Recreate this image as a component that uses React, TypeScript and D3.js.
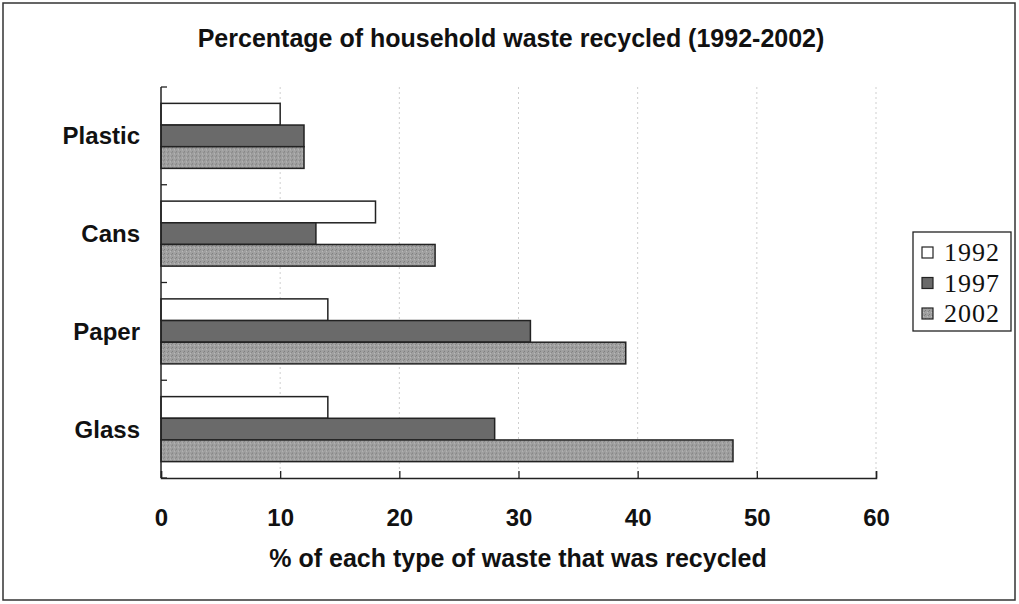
import React, { useRef, useEffect } from 'react';
import * as d3 from 'd3';

// waste types (top to bottom) and recycled % per year
const categories = ['Plastic', 'Cans', 'Paper', 'Glass'];
const years = ['1992', '1997', '2002'];
const values1992 = [10, 18, 14, 14];
const values1997 = [12, 13, 31, 28];
const values2002 = [12, 23, 39, 48];
const xTicks = [0, 10, 20, 30, 40, 50, 60];

const App = () => {
    const svgRef = useRef<SVGSVGElement>(null);
    const width = 1019;
    const height = 604;

    useEffect(() => {
        const svg = d3.select(svgRef.current)
            .attr('width', width)
            .attr('height', height);

        svg.selectAll('*').remove();

        const sans = 'Arial, "Liberation Sans", sans-serif';
        const seriesValues = [values1992, values1997, values2002];
        const fills = ['#ffffff', '#6a6a6a', 'url(#speckle)'];

        // speckled texture for 2002 bars
        const defs = svg.append('defs');
        const pat = defs.append('pattern')
            .attr('id', 'speckle')
            .attr('width', 4).attr('height', 4)
            .attr('patternUnits', 'userSpaceOnUse');
        pat.append('rect').attr('width', 4).attr('height', 4).attr('fill', '#a0a0a0');
        pat.append('rect').attr('x', 0).attr('y', 0).attr('width', 1).attr('height', 1).attr('fill', '#7a7a7a');
        pat.append('rect').attr('x', 2).attr('y', 2).attr('width', 1).attr('height', 1).attr('fill', '#bcbcbc');
        pat.append('rect').attr('x', 3).attr('y', 1).attr('width', 1).attr('height', 1).attr('fill', '#858585');

        // outer frame
        svg.append('rect')
            .attr('x', 3).attr('y', 3)
            .attr('width', 1012).attr('height', 597)
            .attr('fill', 'white')
            .attr('stroke', '#333').attr('stroke-width', 1.5);

        const left = 161, right = 876, top = 87, bottom = 478;

        const xScale = d3.scaleLinear().domain([0, 60]).range([left, right]);
        const yScale = d3.scaleBand().domain(categories).range([top, bottom]).paddingInner(0.335).paddingOuter(0.1675);
        const yOuter = d3.scaleBand().domain(categories).range([top, bottom]);
        const ySub = d3.scaleBand().domain(years).range([0, yScale.bandwidth()]);

        // dashed gridlines
        svg.append('g')
            .selectAll('line')
            .data(xTicks.filter(t => t > 0))
            .enter()
            .append('line')
            .attr('x1', d => xScale(d)).attr('x2', d => xScale(d))
            .attr('y1', top).attr('y2', bottom)
            .attr('stroke', '#cfcfcf')
            .attr('stroke-width', 1)
            .attr('stroke-dasharray', '2,3');

        // bars
        const groups = svg.append('g')
            .selectAll('g')
            .data(categories)
            .enter()
            .append('g')
            .attr('transform', d => `translate(0, ${yScale(d)})`);

        groups.selectAll('rect')
            .data((c, i) => years.map((y, k) => ({ year: y, k, value: seriesValues[k][i] })))
            .enter()
            .append('rect')
            .attr('x', xScale(0))
            .attr('y', d => ySub(d.year)!)
            .attr('width', d => xScale(d.value) - xScale(0))
            .attr('height', ySub.bandwidth())
            .attr('fill', d => fills[d.k])
            .attr('stroke', '#222')
            .attr('stroke-width', 1.5);

        // x axis
        const xAxis = d3.axisBottom(xScale)
            .tickValues(xTicks)
            .tickSize(-7)
            .tickFormat(d3.format('d'));

        const xg = svg.append('g')
            .attr('transform', `translate(0, ${bottom})`)
            .call(xAxis);
        xg.select('.domain').attr('stroke', '#222').attr('stroke-width', 1.5);
        xg.selectAll('.tick line').attr('stroke', '#222').attr('stroke-width', 1.3);
        xg.selectAll('.tick text')
            .attr('y', 48)
            .attr('dy', 0)
            .attr('fill', '#111')
            .style('font-family', sans)
            .style('font-size', '24px')
            .style('font-weight', 'bold');

        // y axis with ticks at band boundaries
        svg.append('line')
            .attr('x1', left).attr('x2', left)
            .attr('y1', top).attr('y2', bottom)
            .attr('stroke', '#222').attr('stroke-width', 1.5);

        const bounds = categories.map(c => yOuter(c)!).concat([bottom]);
        svg.append('g')
            .selectAll('line')
            .data(bounds)
            .enter()
            .append('line')
            .attr('x1', left).attr('x2', left + 6)
            .attr('y1', d => d).attr('y2', d => d)
            .attr('stroke', '#222').attr('stroke-width', 1.3);

        svg.append('g')
            .selectAll('text')
            .data(categories)
            .enter()
            .append('text')
            .attr('x', 140)
            .attr('y', d => yOuter(d)! + yOuter.bandwidth() / 2 + 8.5)
            .attr('text-anchor', 'end')
            .attr('fill', '#111')
            .style('font-family', sans)
            .style('font-size', '24px')
            .style('font-weight', 'bold')
            .text(d => d);

        // title
        svg.append('text')
            .attr('x', 511).attr('y', 47)
            .attr('text-anchor', 'middle')
            .attr('fill', '#111')
            .style('font-family', sans)
            .style('font-size', '25px')
            .style('font-weight', 'bold')
            .text('Percentage of household waste recycled (1992-2002)');

        // x axis title
        svg.append('text')
            .attr('x', 518).attr('y', 567)
            .attr('text-anchor', 'middle')
            .attr('fill', '#111')
            .style('font-family', sans)
            .style('font-size', '25px')
            .style('font-weight', 'bold')
            .text('% of each type of waste that was recycled');

        // legend
        const legend = svg.append('g').attr('transform', 'translate(913, 232)');
        legend.append('rect')
            .attr('width', 98).attr('height', 99)
            .attr('fill', 'white')
            .attr('stroke', '#222').attr('stroke-width', 1.3);

        const items = legend.selectAll('g.item')
            .data(years)
            .enter()
            .append('g')
            .attr('class', 'item')
            .attr('transform', (d, i) => `translate(0, ${29 + i * 30.5})`);

        items.append('rect')
            .attr('x', 9).attr('y', -14)
            .attr('width', 11).attr('height', 11)
            .attr('fill', (d, i) => fills[i])
            .attr('stroke', '#222').attr('stroke-width', 1.2);

        items.append('text')
            .attr('x', 31).attr('y', 0)
            .attr('fill', '#111')
            .style('font-family', '"Liberation Serif", "DejaVu Serif", serif')
            .style('font-size', '26px')
            .style('letter-spacing', '1px')
            .text(d => d);

    }, []);

    return (
        <svg ref={svgRef} style={{ position: 'absolute', left: 0, top: 0, display: 'block' }}></svg>
    );
};

export default App;
